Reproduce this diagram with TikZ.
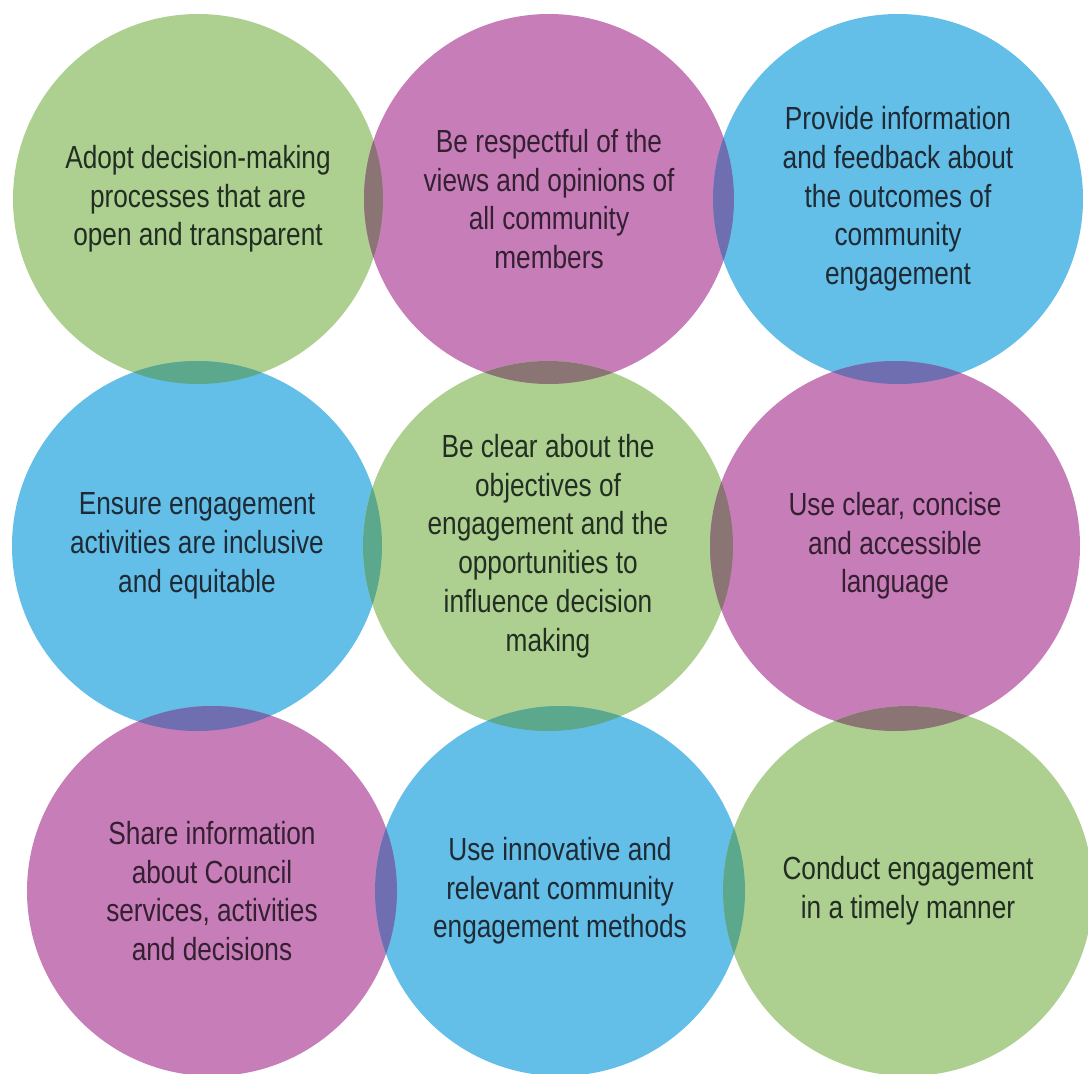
\documentclass[tikz,border=0pt]{standalone}
\usepackage{fontspec}
\setmainfont[FakeStretch=0.82]{Liberation Sans}
\usepackage{tikz}
\usetikzlibrary{positioning}
\definecolor{ballgreen}{RGB}{173,208,145}
\definecolor{ballpink}{RGB}{199,126,184}
\definecolor{ballblue}{RGB}{99,190,232}
\definecolor{lensgm}{RGB}{139,116,116}
\definecolor{lensmb}{RGB}{111,110,177}
\definecolor{lensbg}{RGB}{91,168,140}
\definecolor{inkgreen}{RGB}{34,46,34}
\definecolor{inkpink}{RGB}{52,32,50}
\definecolor{inkblue}{RGB}{30,42,52}
\begin{document}
\begin{tikzpicture}[x=1pt, y=-1pt,
      ball/.style={circle, minimum size=370pt, inner sep=0pt, align=center,
      font=\fontsize{32}{38.7}\selectfont},
      greenball/.style={ball, fill=ballgreen, text=inkgreen},
      pinkball/.style={ball, fill=ballpink, text=inkpink},
      blueball/.style={ball, fill=ballblue, text=inkblue}]
    \useasboundingbox (0,0) rectangle (1088,1074);
    %% first row
    \node [greenball] (g1) at (198,199) {Adopt decision-making\\processes that are\\open and transparent};
    \node [pinkball] (m1) at (549,199) {Be respectful of the\\views and opinions of\\all community\\members};
    \node [blueball] (b1) at (898,199) {Provide information\\and feedback about\\the outcomes of\\community\\engagement};
    %% second row
    \node [blueball] (b2) at (197,546) {Ensure engagement\\activities are inclusive\\and equitable};
    \node [greenball] (g2) at (548,546) {Be clear about the\\objectives of\\engagement and the\\opportunities to\\influence decision\\making};
    \node [pinkball] (m2) at (895,546) {Use clear, concise\\and accessible\\language};
    %% third row
    \node [pinkball] (m3) at (212,891) {Share information\\about Council\\services, activities\\and decisions};
    \node [blueball] (b3) at (560,891) {Use innovative and\\relevant community\\engagement methods};
    \node [greenball] (g3) at (908,891) {Conduct engagement\\in a timely manner};
    %% overlaps
    \foreach \a/\b/\c in {g1/m1/lensgm, m1/b1/lensmb, b2/g2/lensbg, g2/m2/lensgm,
        m3/b3/lensmb, b3/g3/lensbg, g1/b2/lensbg, b2/m3/lensmb, m1/g2/lensgm,
        g2/b3/lensbg, b1/m2/lensmb, m2/g3/lensgm} {
      \begin{scope}
        \clip (\a.center) circle [radius=185pt];
        \fill [\c] (\b.center) circle [radius=185pt];
      \end{scope}
    }
  \end{tikzpicture}
\end{document}
